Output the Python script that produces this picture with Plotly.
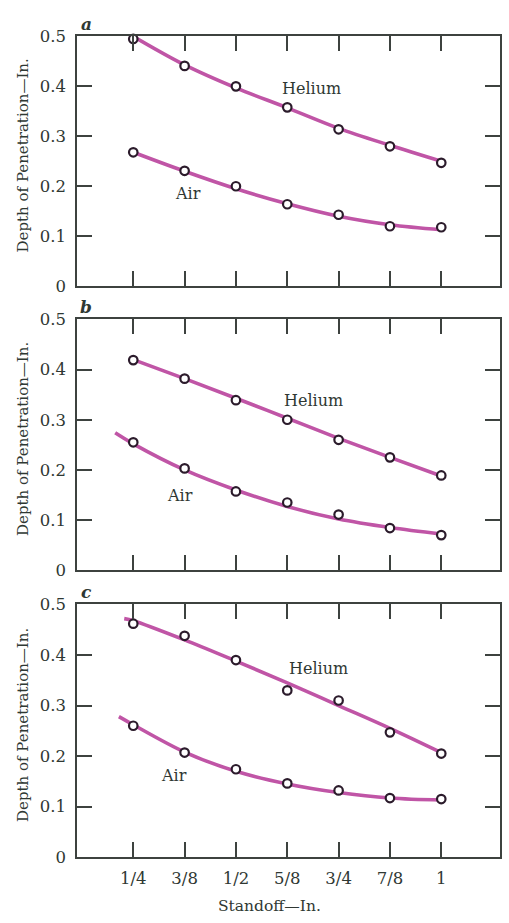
import plotly.graph_objects as go

# ---- data ----
standoff = [0.25, 0.375, 0.5, 0.625, 0.75, 0.875, 1.0]
tick_labels = ["1/4", "3/8", "1/2", "5/8", "3/4", "7/8", "1"]
y_ticks = [0, 0.1, 0.2, 0.3, 0.4, 0.5]
y_tick_labels = ["0", "0.1", "0.2", "0.3", "0.4", "0.5"]

# measured points
a_helium = [0.495, 0.441, 0.400, 0.358, 0.314, 0.280, 0.247]
a_air = [0.268, 0.231, 0.200, 0.164, 0.143, 0.120, 0.118]
b_helium = [0.419, 0.382, 0.339, 0.300, 0.260, 0.225, 0.189]
b_air = [0.255, 0.203, 0.157, 0.135, 0.111, 0.084, 0.070]
c_helium = [0.462, 0.438, 0.390, 0.330, 0.310, 0.247, 0.205]
c_air = [0.260, 0.207, 0.174, 0.146, 0.132, 0.117, 0.115]

# fitted curves
a_helium_fit_x = [0.25, 0.375, 0.5, 0.625, 0.75, 0.875, 1.0]
a_helium_fit = [0.500, 0.443, 0.397, 0.357, 0.316, 0.282, 0.250]
a_air_fit_x = [0.25, 0.375, 0.5, 0.625, 0.75, 0.875, 1.0]
a_air_fit = [0.268, 0.230, 0.195, 0.165, 0.140, 0.123, 0.113]
b_helium_fit_x = [0.25, 0.375, 0.5, 0.625, 0.75, 0.875, 1.0]
b_helium_fit = [0.420, 0.382, 0.343, 0.303, 0.263, 0.225, 0.188]
b_air_fit_x = [0.206, 0.25, 0.375, 0.5, 0.625, 0.75, 0.875, 1.0]
b_air_fit = [0.274, 0.252, 0.200, 0.160, 0.127, 0.102, 0.085, 0.072]
c_helium_fit_x = [0.228, 0.25, 0.375, 0.5, 0.625, 0.75, 0.875, 1.0]
c_helium_fit = [0.472, 0.468, 0.430, 0.388, 0.345, 0.300, 0.255, 0.207]
c_air_fit_x = [0.215, 0.25, 0.375, 0.5, 0.625, 0.75, 0.875, 1.0]
c_air_fit = [0.278, 0.262, 0.208, 0.170, 0.145, 0.128, 0.117, 0.113]

panels = [
    ("a", a_helium, a_air, a_helium_fit_x, a_helium_fit, a_air_fit_x, a_air_fit,
     (0.685, 0.396), (0.383, 0.186)),
    ("b", b_helium, b_air, b_helium_fit_x, b_helium_fit, b_air_fit_x, b_air_fit,
     (0.690, 0.339), (0.364, 0.149)),
    ("c", c_helium, c_air, c_helium_fit_x, c_helium_fit, c_air_fit_x, c_air_fit,
     (0.700, 0.373), (0.349, 0.161)),
]

W, H = 509, 923
LINE = "#c055a6"
MARK = "#2b1b2b"
TXT = "#2f3833"
AX = "#3d423f"
FONT = "DejaVu Serif"

# pixel geometry of panels (top, bottom)
px_left, px_right = 77, 500
panel_px = [(28, 283), (317, 573), (608, 866)]

fig = go.Figure()
annotations = []
for i, (letter, he, air, hfx, hf, afx, af, hpos, apos) in enumerate(panels):
    n = "" if i == 0 else str(i + 1)
    xa, ya = "x" + n, "y" + n
    for fx, fy in [(hfx, hf), (afx, af)]:
        fig.add_trace(go.Scatter(x=fx, y=fy, mode="lines", xaxis=xa, yaxis=ya,
                                 line=dict(color=LINE, width=3.6, shape="spline", smoothing=1.0),
                                 showlegend=False, hoverinfo="skip", cliponaxis=False))
    for vals in [he, air]:
        fig.add_trace(go.Scatter(x=standoff, y=vals, mode="markers", xaxis=xa, yaxis=ya,
                                 marker=dict(symbol="circle", size=8.5, color="white",
                                             line=dict(color=MARK, width=2.2)),
                                 showlegend=False, cliponaxis=False))
    top, bot = panel_px[i]
    dom = [1 - bot / H, 1 - top / H]
    xkey = "xaxis" + n
    ykey = "yaxis" + n
    fig.layout[xkey] = dict(
        domain=[px_left / W, px_right / W], range=[0.113, 1.143],
        tickvals=standoff, ticktext=tick_labels, showticklabels=(i == 2),
        ticks="inside", ticklen=15, tickwidth=1.6, tickcolor=AX,
        showline=True, linecolor=AX, linewidth=1.6, mirror="ticks",
        showgrid=False, zeroline=False, anchor=ya,
        tickfont=dict(family=FONT, size=16.5, color=TXT), ticklabelstandoff=5,
    )
    fig.layout[ykey] = dict(
        domain=dom, range=[0, 0.5], tickvals=y_ticks, ticktext=y_tick_labels,
        ticks="inside", ticklen=15, tickwidth=1.6, tickcolor=AX,
        showline=True, linecolor=AX, linewidth=1.6, mirror="ticks",
        showgrid=False, zeroline=False, anchor=xa,
        tickfont=dict(family=FONT, size=16.5, color=TXT), ticklabelstandoff=6,
    )
    annotations.append(dict(x=hpos[0], y=hpos[1], xref=xa, yref=ya, text="Helium",
                            showarrow=False, font=dict(family=FONT, size=16, color=TXT)))
    annotations.append(dict(x=apos[0], y=apos[1], xref=xa, yref=ya, text="Air",
                            showarrow=False, font=dict(family=FONT, size=16, color=TXT)))
    annotations.append(dict(x=86 / W, y=1 - (top - 13) / H, xref="paper", yref="paper",
                            xanchor="center", yanchor="middle",
                            text="<b><i>" + letter + "</i></b>", showarrow=False,
                            font=dict(family=FONT, size=17, color=TXT)))
    annotations.append(dict(x=23 / W, y=1 - ((top + bot) / 2 - 6) / H, xref="paper", yref="paper",
                            xanchor="center", yanchor="middle",
                            text="Depth of Penetration\u2014In.", textangle=-90, showarrow=False,
                            font=dict(family=FONT, size=15, color=TXT)))

annotations.append(dict(x=269 / W, y=1 - 916 / H, xref="paper", yref="paper",
                        xanchor="center", yanchor="middle",
                        text="Standoff\u2014In.", showarrow=False,
                        font=dict(family=FONT, size=15.5, color=TXT)))

fig.update_layout(width=W, height=H, margin=dict(l=0, r=0, t=0, b=0),
                  paper_bgcolor="white", plot_bgcolor="white",
                  hovermode=False, annotations=annotations)

fig.write_html("out.html",
               config={"displayModeBar": False},
               post_script="document.body.style.margin='0';document.body.style.overflow='hidden';")
